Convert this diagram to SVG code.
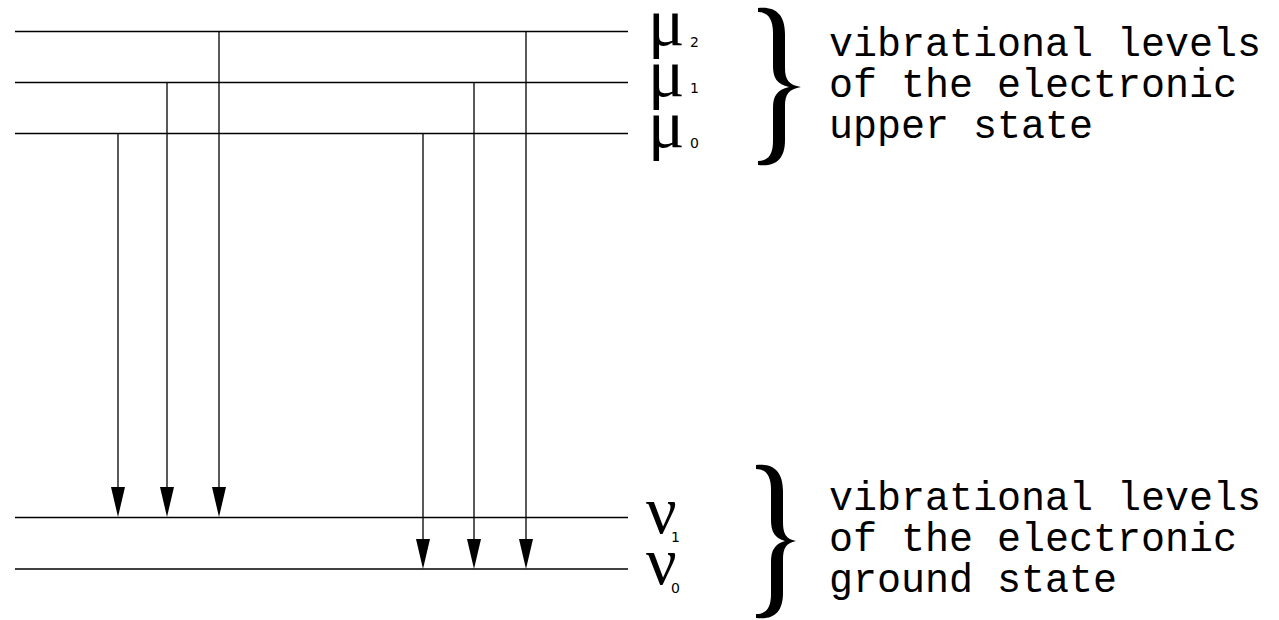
<svg xmlns="http://www.w3.org/2000/svg" width="1279" height="620" viewBox="0 0 1279 620">
<style>
.lvl{stroke:#000;stroke-width:1.4;fill:none}
.tr{stroke:#000;stroke-width:1.3;fill:none}
.sym{font-family:"Liberation Serif","DejaVu Serif",serif;fill:#000}
.sub{font-family:"DejaVu Sans","Liberation Sans",sans-serif;font-size:14px;fill:#000}
.lab{font-family:"Liberation Mono","Courier New",monospace;font-size:40px;fill:#000}
.brace{fill:#000;stroke:none}
</style>
<g id="upper-levels">
<line class="lvl" x1="15" y1="31.5" x2="628" y2="31.5"/>
<line class="lvl" x1="15" y1="82.5" x2="628" y2="82.5"/>
<line class="lvl" x1="15" y1="133.5" x2="628" y2="133.5"/>
</g>
<g id="lower-levels">
<line class="lvl" x1="15" y1="517.5" x2="628" y2="517.5"/>
<line class="lvl" x1="15" y1="569" x2="628" y2="569"/>
</g>
<g id="connectors">
<path class="tr" d="M118 133.5 V487"/><path d="M111 487 L125 487 L118 517 Z"/>
<path class="tr" d="M167 82.5 V487"/><path d="M160 487 L174 487 L167 517 Z"/>
<path class="tr" d="M219 31.5 V487"/><path d="M212 487 L226 487 L219 517 Z"/>
<path class="tr" d="M423 133.5 V539"/><path d="M416 539 L430 539 L423 569 Z"/>
<path class="tr" d="M474 82.5 V539"/><path d="M467 539 L481 539 L474 569 Z"/>
<path class="tr" d="M526 31.5 V539"/><path d="M519 539 L533 539 L526 569 Z"/>
</g>
<g id="mu-labels">
<text class="sym" x="648" y="45" font-size="68">μ</text><text class="sub" x="690" y="47">2</text>
<text class="sym" x="648" y="96" font-size="68">μ</text><text class="sub" x="690" y="93">1</text>
<text class="sym" x="648" y="147" font-size="68">μ</text><text class="sub" x="690" y="148">0</text>
</g>
<g id="nu-labels">
<text class="sym" x="646" y="533" font-size="68">ν</text><text class="sub" x="671" y="542">1</text>
<text class="sym" x="646" y="584" font-size="68">ν</text><text class="sub" x="671" y="593">0</text>
</g>
<g id="upper-brace">
<path class="brace" d="M758 8 C775 6 785 14 785 34 L785 68 C785 80 789 85 801 87 C789 89 785 94 785 106 L785 140 C785 160 775 167 758 165 L758 161 C768 161 773 155 773 141 L773 108 C773 96 777 90 789 87 C777 84 773 78 773 66 L773 33 C773 19 768 12 758 12 Z"/>
</g>
<g id="lower-brace">
<path class="brace" d="M756 465 C773 463 783 471 783 491 L783 522 C783 534 786 539 796 541 C786 543 783 548 783 560 L783 593 C783 613 773 620 756 618 L756 614 C766 614 771 608 771 594 L771 562 C771 550 775 544 785 541 C775 538 771 532 771 520 L771 490 C771 476 766 469 756 469 Z"/>
</g>
<g id="upper-text">
<text class="lab" x="829" y="56">vibrational levels</text>
<text class="lab" x="829" y="97">of the electronic</text>
<text class="lab" x="829" y="138">upper state</text>
</g>
<g id="lower-text">
<text class="lab" x="829" y="510">vibrational levels</text>
<text class="lab" x="829" y="551">of the electronic</text>
<text class="lab" x="829" y="592">ground state</text>
</g>
</svg>
